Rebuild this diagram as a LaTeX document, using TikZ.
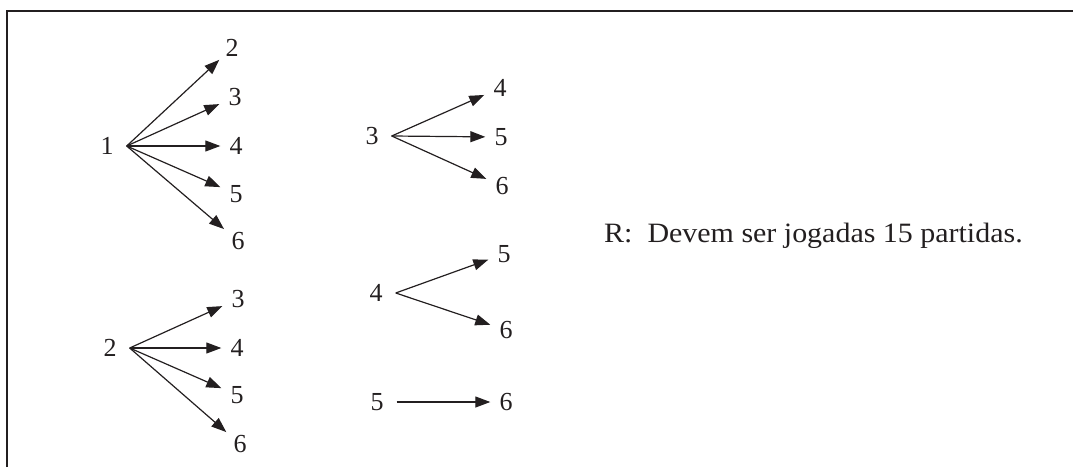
\documentclass[tikz,border=0pt]{standalone}
\usepackage{fontspec}
\setmainfont{Liberation Serif}
\usepackage{tikz}
\usetikzlibrary{arrows.meta}
\definecolor{ink}{HTML}{231F20}

\begin{document}
\begin{tikzpicture}[x=1pt,y=1pt,
    every node/.style={text=ink,font=\fontsize{26}{31}\selectfont},
    root/.style={inner xsep=13pt,inner ysep=3pt},
    leaf/.style={inner xsep=9pt,inner ysep=3pt},
    arr/.style={ink,line width=1.2pt,-{Triangle[length=15pt,width=11pt]}}]
  \useasboundingbox (0,0) rectangle (1073,467);
  \draw[ink,line width=2pt] (7,0) -- (7,456) -- (1073,456);
  % jogos do 1
  \node[root] (a1) at (107,321) {1};
  \node[leaf] (a12) at (232,419) {2};
  \node[leaf] (a13) at (235,370) {3};
  \node[leaf] (a14) at (236,321) {4};
  \node[leaf] (a15) at (236,273) {5};
  \node[leaf] (a16) at (238,226) {6};
  \draw[arr] (a1.east) -- (a12);
  \draw[arr] (a1.east) -- (a13);
  \draw[arr] (a1.east) -- (a14);
  \draw[arr] (a1.east) -- (a15);
  \draw[arr] (a1.east) -- (a16);
  % jogos do 2
  \node[root] (b2) at (110,119) {2};
  \node[leaf] (b23) at (238,168) {3};
  \node[leaf] (b24) at (237,119) {4};
  \node[leaf] (b25) at (237,72) {5};
  \node[leaf] (b26) at (240,23) {6};
  \draw[arr] (b2.east) -- (b23);
  \draw[arr] (b2.east) -- (b24);
  \draw[arr] (b2.east) -- (b25);
  \draw[arr] (b2.east) -- (b26);
  % jogos do 3
  \node[root] (c3) at (372,331) {3};
  \node[leaf] (c34) at (500,379) {4};
  \node[leaf] (c35) at (501,330) {5};
  \node[leaf] (c36) at (502,281) {6};
  \draw[arr] (c3.east) -- (c34);
  \draw[arr] (c3.east) -- (c35);
  \draw[arr] (c3.east) -- (c36);
  % jogos do 4 e do 5
  \node[root] (d4) at (376,174) {4};
  \node[leaf] (d45) at (504,213) {5};
  \node[leaf] (d46) at (506,137) {6};
  \draw[arr] (d4.east) -- (d45);
  \draw[arr] (d4.east) -- (d46);
  \node[root] (e5) at (377,65) {5};
  \node[leaf] (e56) at (506,65) {6};
  \draw[arr] (e5.east) -- (e56);
  \node[anchor=base west,inner sep=0pt,font=\fontsize{28}{34}\selectfont] (resp) at (604,225)
    {\scalebox{1.07}[1]{R:\ \ Devem ser jogadas 15 partidas.}};
\end{tikzpicture}
\end{document}
